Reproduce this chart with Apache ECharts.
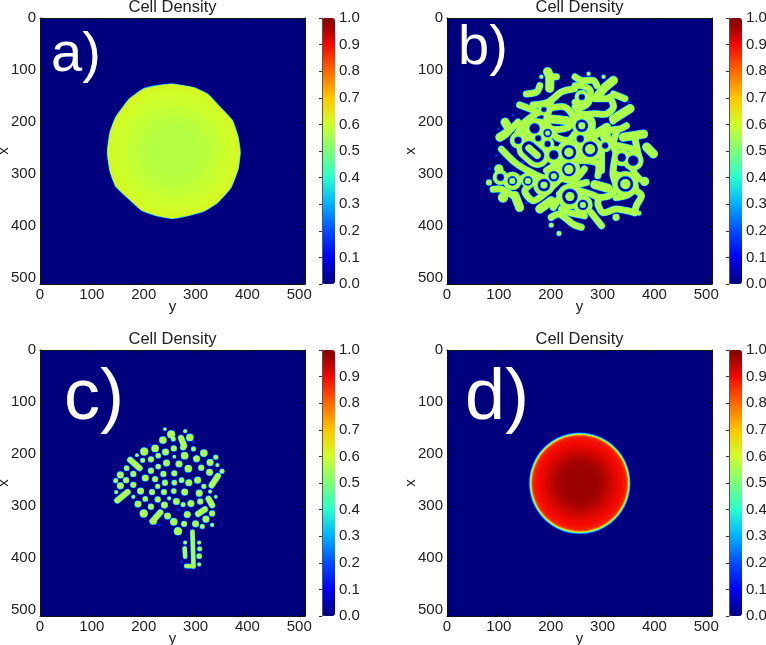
<!DOCTYPE html>
<html><head><meta charset="utf-8">
<style>html,body{margin:0;padding:0;background:#fff}#c{width:766px;height:645px}</style>
<script src="https://cdn.jsdelivr.net/npm/echarts@6/dist/echarts.min.js"></script>
</head><body><div id="c"></div>
<script>
// ---------- data (all in image data units: y = column, x = row) ----------
const panelLetters = ['a)', 'b)', 'c)', 'd)'];
const titleText = 'Cell Density';
const jetStops = ['#00007f','#0000f2','#004cff','#00b0ff','#29ffce','#7cff79','#ceff29','#ffc600','#ff6800','#f20800','#7f0000'];

// panel a: colony outline and interior shading
const outlineA = [[255,127],[297,134],[323,146],[348,172],[371,197],[382,229],[386,258],[382,290],[368,326],[342,355],[316,371],[284,380],[255,385],[226,380],[197,370],[172,348],[146,323],[135,294],[130,258],[135,220],[146,191],[172,156],[200,136],[226,130]];
const shadeCentreA = [258, 256];
const shadeRadiiA = [118, 104, 88, 70, 50];
const shadeDensityA = [0.605, 0.595, 0.585, 0.575, 0.568];
const outerDensityA = 0.612;

// panel b: labyrinth
const strandDensity = 0.56;
const strandsB = [
 [198,113,211,113],[153,146,173,142,179,130],[140,167,156,173,169,178],
 [166,167,195,162,221,142,246,136],[182,178,163,190,147,203,134,226],
 [201,158,198,174],[198,174,227,171,243,190,234,210,201,213,192,197,198,174],
 [137,200,121,216],[147,235,153,213,169,200,189,203,198,213],
 [247,113,260,120,282,120,289,130],[247,130,260,130,276,139,273,162,260,171,247,162],
 [321,146,343,155],[314,152,321,171,308,184,285,184,260,184,247,171],[285,155,308,155],
 [346,207,334,213,314,216,302,229],[311,229,308,242,285,242],
 [362,229,369,264],[330,245,356,251],[327,219,321,242,327,261],
 [247,187,263,187,279,197,279,213,266,229],[201,213,211,229,234,235,246,223],
 [147,235,150,255,165,250],
 [105,252,134,280,163,297,182,306],
 [89,329,105,329,127,341],[139,313,156,303,166,313,150,332,166,351,188,338,205,322,221,309,243,313,265,290],
 [192,293,208,284,230,277,265,274,291,280,291,303],
 [217,338,237,325,269,316],[205,364,217,345],
 [201,383,217,377,243,396,259,402],[221,367,237,374,265,380],[278,374,298,399],
 [291,345,314,341,326,325,320,300,326,258],
 [256,332,291,345,291,358,301,374,326,367,362,374],
 [326,345,346,341,362,332,375,341,365,361,362,374],
 [369,264,359,292,371,309],[298,258,298,293],[326,300,336,309,326,325],[365,332,359,306],
 [100,290,100,306]
];
const fatStrandsB = [[194,103,198,113,198,135],[102,229,118,216,112,200],[321,120,302,136,289,152],[353,174,321,194],[282,226,308,210],[340,229,379,223],[385,248,398,261],[201,194,230,197],[285,320,310,327],[131,341,140,364],[179,367,201,351]];
const dotsB = [[182,113,3.2],[273,107,3.2],[302,113,3.2],[320,199,5],[108,345,9],[81,316,5],[326,383,6],[370,375,4],[381,314,8],[201,398,4],[216,414,4],[100,290,8]];
const ringsB = [
 [187,176,11,5,0],[169,212,19,10,0],[137,235,15,7,0],[176,231,12,6,0],[194,221,13,8,4],[194,242,12,6,0],[260,152,13,6,0],[260,207,18,12,6],[257,232,12,7,0],[276,252,24,15,9],[305,245,12,6,0],
 [206,263,17,9,0],[235,258,23,14,8],[235,291,21,13,8],[206,304,17,10,5],[187,321,20,12,6],[126,313,17,9,5],
 [103,306,14,7,0],[156,313,12,9,5],[237,343,24,15,8],[262,359,18,10,5],[337,268,16,8,0],[359,274,19,10,0],[344,319,24,15,9]
];
const capsulesB = [[158,250,174,264,46,27,12]];
const faintB = [[127,187],[99,213],[147,277],[82,290],[95,264],[153,355],[351,162],[320,150]];

// panel c: spots and rods
const spotsC = [
 [241,152,2.6],[253,162,7],[280,156,3],[289,168,6.4],[237,173,6.4],[257,171,4],[201,195,7],[222,189,6.4],[242,196,5.8],[258,189,5],[276,187,5],[296,190,4],[316,198,6.4],
 [187,202,2.6],[228,203,4.5],[259,205,2.6],[279,203,6.4],[302,209,5.8],[198,212,4],[214,210,5],[339,206,4],[328,216,5.8],[244,217,5.8],[268,219,5.8],[228,224,4.5],[311,226,5],
 [286,228,6.4],[342,221,3],[167,227,4.5],[214,232,5],[351,233,4],[180,238,5],[155,240,5.8],[259,237,5],[327,235,5.8],[238,238,5],[146,251,4],[166,250,5],[203,246,5.8],[222,248,5],
 [273,250,4.5],[304,250,5.8],[241,255,5],[259,255,4.5],[287,255,5.8],[180,259,5],[155,261,5.8],[227,262,4],[316,262,4],[147,273,3],[194,271,5.8],[216,273,5],[239,273,5],[258,271,4.5],
 [279,273,5.8],[307,275,5.8],[328,272,3],[180,282,3],[203,286,4.5],[227,287,5],[249,285,3],[263,291,5.8],[339,282,2.6],[309,291,5],[291,295,5.8],[276,297,4],[189,296,5.8],[214,301,5],
 [240,298,5.8],[200,314,7],[246,319,5.8],[284,316,5.8],[332,314,5],[320,325,5.8],[258,330,6.4],[278,334,5],[300,334,5.8],[313,339,4],[332,336,3],[266,348,7],[219,329,5.8],
 [280,370,3],[307,370,3],[308,382,4],[307,396,4.5],[307,412,3]
];
const rodsC = [[272,169,278,184],[174,211,192,227],[331,260,343,242],[149,289,169,273],[325,286,332,298],[305,315,318,306],[217,329,232,312]];
const thinRodsC = [[294,349,296,416],[282,415,296,415],[279,381,280,397]];
const faintC = [[230,336],[267,307],[296,177],[212,182],[273,407]];

// panel d: radial profile
const centreD = [256, 256];
const radiiD =    [98.5,98,97.3,96.6,95.9,95.2,94.5,93.8,93,92,90.5,88,84,80,76,72,68,64,60,56,52,48,44,40,34,28];
const densityD = [0.1,0.18,0.27,0.36,0.45,0.54,0.62,0.7,0.78,0.84,0.87,0.885,0.895,0.9,0.906,0.912,0.92,0.928,0.936,0.944,0.952,0.96,0.965,0.97,0.973,0.975];

// ---------- layout ----------
const panels = [{l:40,t:18},{l:447,t:18},{l:40,t:350},{l:447,t:350}];
const plotW = 265, plotH = 266, barGap = 17, barW = 13;
const letterStyle = [{x:51,y:28,s:56},{x:458,y:21,s:56},{x:64,y:363,s:72},{x:465,y:363,s:72}];
const titleTops = [-1,-1,331,331];
const font = '"Liberation Sans", Arial, sans-serif';

// ---------- mark building ----------
const marks = [[],[],[],[]], seriesData = [[],[],[],[]];
function add(p, m, d){ marks[p].push(m); seriesData[p].push([d, marks[p].length - 1]); }
const toPts = f => { const o=[]; for(let i=0;i<f.length;i+=2) o.push([f[i],f[i+1]]); return o; };
const haloPasses = [[3.4,0.14],[2.3,0.26],[1.2,0.42]];

function grow(s,e){ return s.k==='dot' ? {k:'dot',c:s.c,r:Math.max(s.r+e/2,0.1)} : {k:'line',pts:s.pts,w:Math.max(s.w+e,0.2)}; }
function positiveLayer(p, shapes, d){
  haloPasses.forEach(h => shapes.forEach(s => add(p, grow(s,h[0]), h[1])));
  shapes.forEach(s => add(p, s, d));
}
function holeLayer(p, shapes){
  [[0.8,0.36],[0,0.2],[-0.9,0.09],[-1.8,0]].forEach(h => shapes.forEach(s => add(p, grow(s,h[0]*2), h[1])));
}
// a
(function(){
  const pts = outlineA;
  [[3.2,0.14],[2.2,0.27],[1.2,0.43]].forEach(h => add(0,{k:'poly',pts,w:h[0]},h[1]));
  add(0,{k:'poly',pts,w:0},outerDensityA);
  shadeRadiiA.forEach((r,i)=>add(0,{k:'dot',c:shadeCentreA,r},shadeDensityA[i]));
})();
// b
(function(){
  const pos = [];
  strandsB.forEach(f=>pos.push({k:'line',pts:toPts(f),w:11.5}));
  fatStrandsB.forEach(f=>pos.push({k:'line',pts:toPts(f),w:15.5}));
  dotsB.forEach(v=>pos.push({k:'dot',c:[v[0],v[1]],r:v[2]}));
  ringsB.forEach(v=>pos.push({k:'dot',c:[v[0],v[1]],r:v[2]}));
  capsulesB.forEach(v=>pos.push({k:'line',pts:[[v[0],v[1]],[v[2],v[3]]],w:v[4]}));
  faintB.forEach(v=>add(1,{k:'dot',c:v,r:2.4},0.17));
  positiveLayer(1,pos,strandDensity);
  holeLayer(1,ringsB.map(v=>({k:'dot',c:[v[0],v[1]],r:v[3]})).concat(capsulesB.map(v=>({k:'line',pts:[[v[0],v[1]],[v[2],v[3]]],w:v[5]}))));
  const inner = ringsB.filter(v=>v[4]>0).map(v=>({k:'dot',c:[v[0],v[1]],r:v[4]}))
    .concat(capsulesB.map(v=>({k:'line',pts:[[v[0],v[1]],[v[2],v[3]]],w:v[6]})));
  positiveLayer(1,inner,strandDensity);
})();
// c
(function(){
  const pos = [];
  spotsC.forEach(v=>pos.push({k:'dot',c:[v[0],v[1]],r:v[2]}));
  rodsC.forEach(f=>pos.push({k:'line',pts:toPts(f),w:10}));
  thinRodsC.forEach(f=>pos.push({k:'line',pts:toPts(f),w:7}));
  faintC.forEach(v=>add(2,{k:'dot',c:v,r:3},0.14));
  positiveLayer(2,pos,strandDensity);
})();
// d
radiiD.forEach((r,i)=>add(3,{k:'dot',c:centreD,r},densityD[i]));

function makeRender(p){
  return function(params, api){
    const m = marks[p][api.value(1)];
    const unit = api.size([1,1])[0];
    const color = api.visual('color');
    if(m.k==='dot'){
      const c = api.coord(m.c);
      return {type:'circle',shape:{cx:c[0],cy:c[1],r:m.r*unit},style:{fill:color}};
    }
    const pts = m.pts.map(q=>api.coord(q));
    if(m.k==='poly'){
      return {type:'polygon',shape:{points:pts,smooth:0.12},style:{fill:color,stroke:color,lineWidth:m.w*unit,lineJoin:'round'}};
    }
    return {type:'polyline',shape:{points:pts,smooth:0.3},style:{fill:null,stroke:color,lineWidth:m.w*unit,lineCap:'round',lineJoin:'round'}};
  };
}

// ---------- option ----------
const grids=[],xAxes=[],yAxes=[],series=[],visualMaps=[],titles=[],graphics=[];
const tickLab = {color:'#222',fontFamily:font,fontSize:15};
panels.forEach((P,i)=>{
  const gi = grids.length;
  grids.push({left:P.l,top:P.t,width:plotW,height:plotH,outerBoundsMode:'none',show:true,backgroundColor:'#00007f',borderWidth:0});
  const line = {show:true,onZero:false,lineStyle:{color:'#111',width:1}};
  const tick = {show:true,inside:true,length:3,lineStyle:{color:'#111',width:1}};
  const base = {type:'value',gridIndex:gi,min:0,max:511,interval:100,splitLine:{show:false},axisLine:line,axisTick:tick};
  const xi = xAxes.length, yi = yAxes.length;
  xAxes.push(Object.assign({},base,{position:'bottom',name:'y',nameLocation:'middle',nameMoveOverlap:false,nameGap:15,nameTextStyle:tickLab,axisLabel:Object.assign({margin:3,showMaxLabel:false},tickLab)}));
  xAxes.push(Object.assign({},base,{position:'top',axisLabel:{show:false}}));
  yAxes.push(Object.assign({},base,{position:'left',inverse:true,name:'x',nameLocation:'middle',nameMoveOverlap:false,nameGap:29,nameTextStyle:tickLab,axisLabel:Object.assign({margin:4,showMaxLabel:false},tickLab)}));
  yAxes.push(Object.assign({},base,{position:'right',inverse:true,axisLabel:{show:false}}));
  series.push({type:'custom',xAxisIndex:xi,yAxisIndex:yi,coordinateSystem:'cartesian2d',data:seriesData[i],renderItem:makeRender(i),encode:{x:0,y:1},clip:true,animation:false,silent:true});
  visualMaps.push({type:'continuous',seriesIndex:i,dimension:0,min:0,max:1,calculable:false,show:true,realtime:false,left:P.l+plotW+barGap,top:P.t,itemWidth:barW,itemHeight:plotH,padding:0,text:null,showLabel:false,inRange:{color:jetStops},textStyle:{fontSize:0}});
  // colour bar axis
  const gb = grids.length;
  grids.push({left:P.l+plotW+barGap,top:P.t,width:barW,height:plotH,outerBoundsMode:'none',z:5});
  xAxes.push({type:'value',gridIndex:gb,min:0,max:1,show:false});
  yAxes.push({type:'value',gridIndex:gb,min:0,max:1,interval:0.1,position:'right',z:5,splitLine:{show:false},
    axisLine:{show:true,lineStyle:{color:'#555',width:1}},axisTick:{show:true,inside:true,length:3,lineStyle:{color:'#333'}},
    axisLabel:Object.assign({margin:4,formatter:v=>v.toFixed(1)},tickLab)});
  titles.push({text:titleText,left:P.l+plotW/2,top:titleTops[i],textAlign:'center',padding:0,textStyle:{color:'#222',fontFamily:font,fontSize:16.5,fontWeight:'normal'}});
  const L = letterStyle[i];
  graphics.push({type:'text',left:L.x,top:L.y,z:20,style:{text:panelLetters[i],fill:'#fff',fontFamily:font,fontSize:L.s}});
});
const chart = echarts.init(document.getElementById('c'),null,{renderer:'canvas'});
chart.setOption({animation:false,backgroundColor:'#fff',title:titles,grid:grids,xAxis:xAxes,yAxis:yAxes,series,visualMap:visualMaps,graphic:graphics});
</script></body></html>
